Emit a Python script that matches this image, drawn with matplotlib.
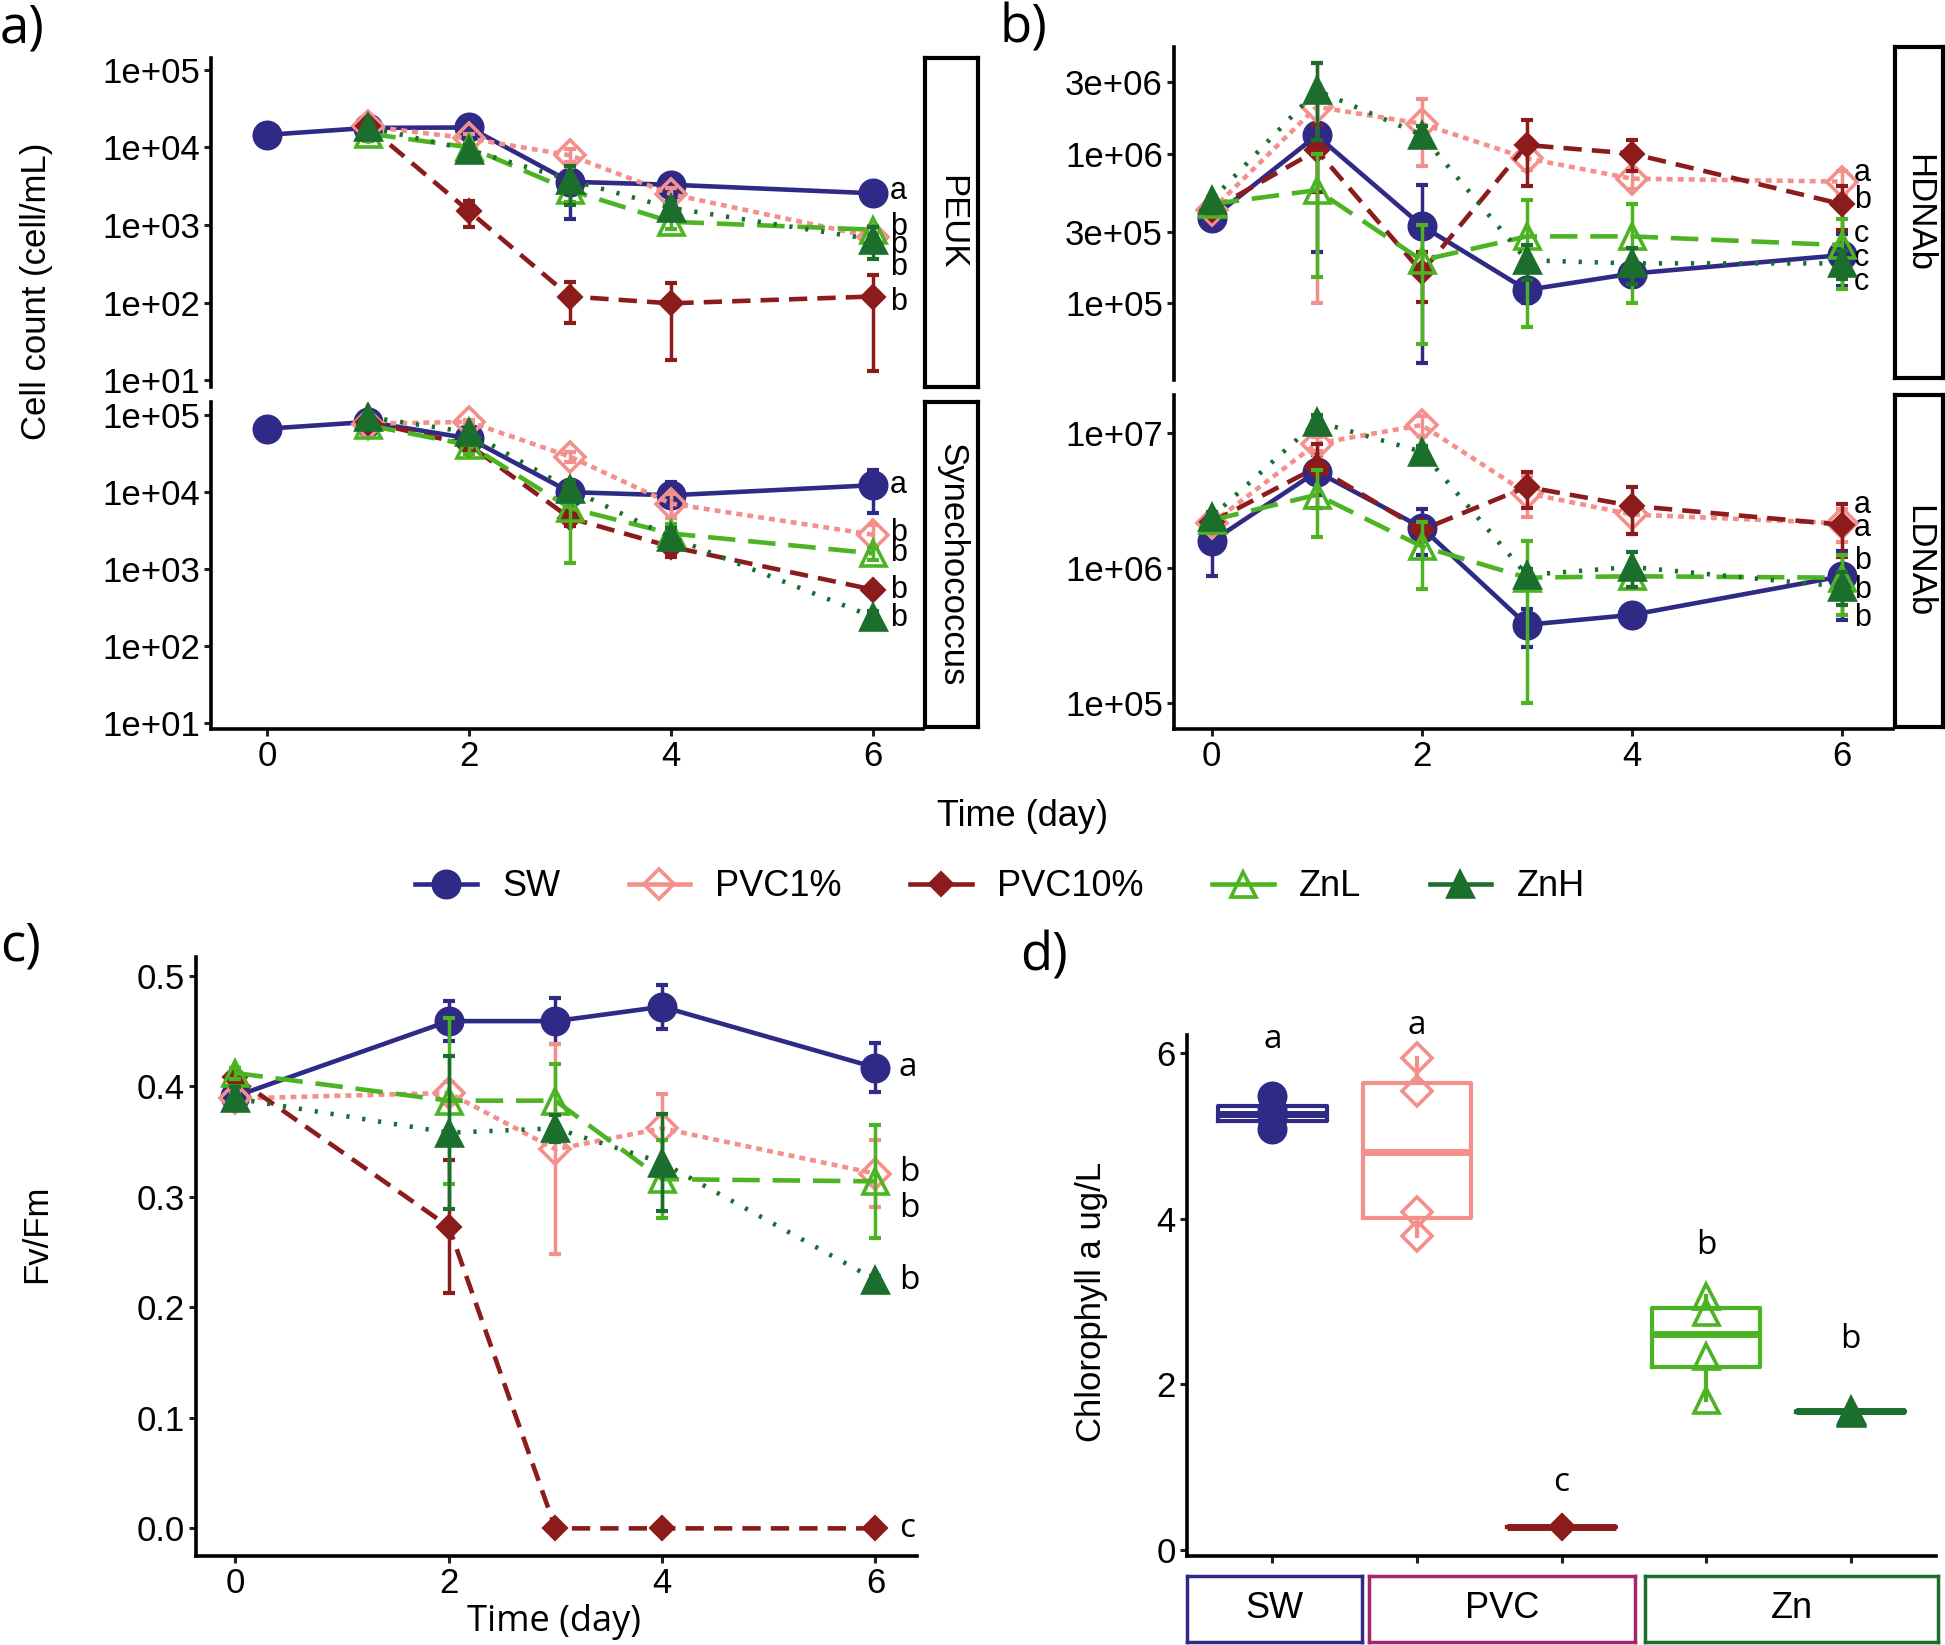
import numpy as np
import matplotlib
matplotlib.use('Agg')
import matplotlib.pyplot as plt
from matplotlib.lines import Line2D
from matplotlib.ticker import NullLocator

plt.rcParams['font.family'] = ['Liberation Sans', 'DejaVu Sans']

# ---- data ----
treat = ['SW', 'PVC1%', 'PVC10%', 'ZnL', 'ZnH']
nan = np.nan
days = [0, 1, 2, 3, 4, 6]
days_fv = [0, 2, 3, 4, 6]

# cell counts, rows = treatments (SW, PVC1%, PVC10%, ZnL, ZnH)
peuk_mean = [[1.45e4, 1.78e4, 1.8e4, 3.6e3, 3.3e3, 2.56e3],
             [nan, 1.86e4, 1.3e4, 7.9e3, 2.5e3, 700],
             [nan, 1.86e4, 1.5e3, 120, 98, 120],
             [nan, 1.5e4, 1.0e4, 2.8e3, 1.1e3, 870],
             [nan, 1.8e4, 9.3e3, 3.8e3, 1.66e3, 650]]
peuk_sd = [[500, 800, 1000, 2400, 400, 200],
           [nan, 1500, 2000, 1500, 500, 80],
           [nan, 1500, 550, 65, 80, 107],
           [nan, 3000, 1500, 800, 200, 100],
           [nan, 1500, 1500, 2000, 400, 280]]

syn_mean = [[6.7e4, 8.2e4, 5.0e4, 1.0e4, 9.1e3, 1.23e4],
            [nan, 7.8e4, 8.2e4, 2.9e4, 7.1e3, 2.8e3],
            [nan, 8.2e4, 4.1e4, 4.6e3, 1.95e3, 540],
            [nan, 7.4e4, 4.1e4, 6.2e3, 2.9e3, 1.6e3],
            [nan, 9.5e4, 6.0e4, 1.1e4, 2.6e3, 240]]
syn_sd = [[3000, 3000, 5000, 3000, 4500, 7000],
          [nan, 4000, 5000, 4000, 2500, 900],
          [nan, 3000, 5000, 1000, 500, 80],
          [nan, 4000, 10000, 5000, 1000, 300],
          [nan, 3000, 8000, 3000, 800, 40]]

hdna_mean = [[3.7e5, 1.32e6, 3.3e5, 1.23e5, 1.58e5, 2.1e5],
             [4.2e5, 2.05e6, 1.58e6, 9.3e5, 6.8e5, 6.5e5],
             [4.2e5, 1.05e6, 1.62e5, 1.14e6, 1.0e6, 4.6e5],
             [4.6e5, 5.7e5, 1.94e5, 2.8e5, 2.8e5, 2.45e5],
             [4.9e5, 2.64e6, 1.33e6, 1.94e5, 1.85e5, 1.85e5]]
hdna_sd = [[3e4, 1.1e6, 2.9e5, 2.3e4, 2.5e4, 8e4],
           [3e4, 1.95e6, 7.5e5, 1.5e5, 1e5, 1.2e5],
           [3e4, 5e5, 6e4, 5.3e5, 2.3e5, 1.5e5],
           [2e4, 4.2e5, 1.4e5, 2.1e5, 1.8e5, 1.2e5],
           [2e4, 1.4e6, 2e5, 5e4, 5e4, 4e4]]

ldna_mean = [[1.58e6, 5.2e6, 2.0e6, 3.8e5, 4.5e5, 8.7e5],
             [2.15e6, 8.4e6, 1.15e7, 3.6e6, 2.5e6, 2.15e6],
             [2.2e6, 5.6e6, 1.92e6, 4.0e6, 2.9e6, 2.1e6],
             [2.27e6, 3.5e6, 1.45e6, 8.5e5, 8.7e5, 8.5e5],
             [2.4e6, 1.22e7, 7.3e6, 8.9e5, 1.02e6, 7.3e5]]
ldna_sd = [[7e5, 1.7e6, 7.5e5, 1.2e5, 3e4, 4.6e5],
           [1e5, 1e6, 2e6, 1.2e6, 7e5, 6e5],
           [1e5, 2.8e6, 3e5, 1.2e6, 1.1e6, 9e5],
           [1e5, 1.8e6, 7.5e5, 7.5e5, 1.5e5, 4e5],
           [2e5, 1.5e6, 8e5, 1e5, 3e5, 2e5]]

fv_mean = [[0.391, 0.459, 0.459, 0.472, 0.417],
           [0.389, 0.394, 0.343, 0.362, 0.321],
           [0.408, 0.273, 0.0, 0.0, 0.0],
           [0.412, 0.387, 0.387, 0.316, 0.314],
           [0.389, 0.358, 0.362, 0.331, 0.225]]
fv_sd = [[0.012, 0.018, 0.021, 0.020, 0.022],
         [0.005, 0.010, 0.095, 0.031, 0.030],
         [0.005, 0.060, 0.0, 0.0, 0.0],
         [0.005, 0.075, 0.033, 0.035, 0.051],
         [0.010, 0.069, 0.012, 0.044, 0.003]]

chl = [[5.08, 5.22, 5.32, 5.48],
       [3.79, 4.08, 5.54, 5.94],
       [0.27, 0.28, 0.28, 0.29],
       [1.81, 2.34, 2.87, 3.07],
       [1.66, 1.67, 1.68, 1.69]]

peuk_letters = ['a', 'b', 'b', 'b', 'b']
peuk_lety = [2.7e3, 955, 550, 290, 102]
syn_letters = ['a', 'b', 'b', 'b', 'b']
syn_lety = [1.23e4, 2.9e3, 1.6e3, 540, 230]
hdna_letters = ['a', 'b', 'c', 'c', 'c']
hdna_lety = [7.4e5, 4.9e5, 2.9e5, 2.0e5, 1.39e5]
ldna_letters = ['a', 'a', 'b', 'b', 'b']
ldna_lety = [2.95e6, 1.98e6, 1.12e6, 6.9e5, 4.3e5]
fv_letters = ['a', 'b', 'b', 'b', 'c']
fv_lety = [0.417, 0.322, 0.289, 0.224, 0.0]
chl_letters = ['a', 'a', 'c', 'b', 'b']
chl_lety = [6.17, 6.33, 0.81, 3.68, 2.54]

panel_tags = ['a' + ')', 'b' + ')', 'c' + ')', 'd' + ')']
tag_px = [0, 1000, 0, 1020]
tag_py = [2, 2, 920, 930]

# ---- styles ----
colors = ['#2f2a85', '#f4908c', '#8c1c1c', '#4cb322', '#1b6e2c']
markers = ['o', 'D', 'D', '^', '^']
filled = [True, False, True, False, True]
msize = [19, 15, 11, 18, 18]
lstyles = ['-', (0, (1.3, 1.1)), (0, (4, 2.2)), (0, (6, 2.8)), (0, (0.7, 2.8))]

W, H = 1945, 1645
fig = plt.figure(figsize=(W / 100, H / 100), dpi=100)


def rect(x0, y0, x1, y1):
    return [x0 / W, 1 - y1 / H, (x1 - x0) / W, (y1 - y0) / H]


def style_ax(ax, bottom=True):
    for s in ['top', 'right']:
        ax.spines[s].set_visible(False)
    ax.spines['left'].set_linewidth(2.6)
    ax.spines['bottom'].set_linewidth(2.6)
    if not bottom:
        ax.spines['bottom'].set_visible(False)
        ax.set_xticks([])
    ax.tick_params(labelsize=25, width=2.2, length=5, pad=3, colors='#222222', labelcolor='black')


def strip(r, text, rot=-90, edge='black', fs=25, lw=3):
    sa = fig.add_axes(r)
    sa.set_xticks([])
    sa.set_yticks([])
    sa.patch.set_facecolor('white')
    for sp in sa.spines.values():
        sp.set_linewidth(lw)
        sp.set_color(edge)
    sa.text(0.5, 0.5, text, rotation=rot, ha='center', va='center',
            transform=sa.transAxes, fontsize=fs)


def draw_series(ax, x, means, sds, log=False, floor=None):
    x = np.array(x, float)
    for i in range(5):
        m = np.array(means[i], float)
        s = np.array(sds[i], float)
        ok = ~np.isnan(m)
        lo = m - s
        if log:
            lo = np.maximum(lo, floor)
        ax.errorbar(x[ok], m[ok], yerr=[m[ok] - lo[ok], s[ok]], fmt='none',
                    ecolor=colors[i], elinewidth=2.5, capsize=4, capthick=3, zorder=2 + i)
        ax.plot(x[ok], m[ok], color=colors[i], lw=3.3, ls=lstyles[i], zorder=3 + i)
        ax.plot(x[ok], m[ok], ls='none', marker=markers[i], ms=msize[i],
                mfc=colors[i] if filled[i] else 'none', mec=colors[i], mew=2.6, zorder=3 + i)


def letters(ax, x, ys, labs, fs=22, family=None):
    for y, l in zip(ys, labs):
        ax.text(x, y, l, fontsize=fs, ha='left', va='center', family=family)


# ---- panel a ----
a_ticks = [1e1, 1e2, 1e3, 1e4, 1e5]
a_lab = ['1e+01', '1e+02', '1e+03', '1e+04', '1e+05']
ax_a1 = fig.add_axes(rect(211, 58, 923, 387))
draw_series(ax_a1, days, peuk_mean, peuk_sd, log=True, floor=10 ** 0.95)
ax_a1.set_yscale('log')
ax_a1.set_ylim(10 ** 0.914, 10 ** 5.15)
ax_a1.set_xlim(-0.56, 6.5)
ax_a1.set_yticks(a_ticks)
ax_a1.set_yticklabels(a_lab)
ax_a1.yaxis.set_minor_locator(NullLocator())
style_ax(ax_a1, bottom=False)
letters(ax_a1, 6.17, peuk_lety, peuk_letters)
strip(rect(925, 58, 978, 387), 'PEUK')

ax_a2 = fig.add_axes(rect(211, 402, 923, 729))
draw_series(ax_a2, days, syn_mean, syn_sd, log=True, floor=10 ** 0.95)
ax_a2.set_yscale('log')
ax_a2.set_ylim(10 ** 0.918, 10 ** 5.173)
ax_a2.set_xlim(-0.56, 6.5)
ax_a2.set_yticks(a_ticks)
ax_a2.set_yticklabels(a_lab)
ax_a2.yaxis.set_minor_locator(NullLocator())
ax_a2.set_xticks([0, 2, 4, 6])
style_ax(ax_a2)
letters(ax_a2, 6.17, syn_lety, syn_letters)
strip(rect(925, 402, 978, 727), 'Synechococcus')

# ---- panel b ----
ax_b1 = fig.add_axes(rect(1174, 47, 1893, 380))
draw_series(ax_b1, days, hdna_mean, hdna_sd, log=True, floor=10 ** 4.5)
ax_b1.set_yscale('log')
ax_b1.set_ylim(10 ** 4.489, 10 ** 6.711)
ax_b1.set_xlim(-0.36, 6.49)
ax_b1.set_yticks([1e5, 3e5, 1e6, 3e6])
ax_b1.set_yticklabels(['1e+05', '3e+05', '1e+06', '3e+06'])
ax_b1.yaxis.set_minor_locator(NullLocator())
style_ax(ax_b1, bottom=False)
letters(ax_b1, 6.12, hdna_lety, hdna_letters)
strip(rect(1895, 47, 1943, 378), 'HDNAb')

ax_b2 = fig.add_axes(rect(1174, 395, 1893, 729))
draw_series(ax_b2, days, ldna_mean, ldna_sd, log=True, floor=10 ** 4.81)
ax_b2.set_yscale('log')
ax_b2.set_ylim(10 ** 4.807, 10 ** 7.284)
ax_b2.set_xlim(-0.36, 6.49)
ax_b2.set_yticks([1e5, 1e6, 1e7])
ax_b2.set_yticklabels(['1e+05', '1e+06', '1e+07'])
ax_b2.yaxis.set_minor_locator(NullLocator())
ax_b2.set_xticks([0, 2, 4, 6])
style_ax(ax_b2)
letters(ax_b2, 6.12, ldna_lety, ldna_letters)
strip(rect(1895, 395, 1943, 727), 'LDNAb')

fig.text(37 / W, 1 - 291 / H, 'Cell count (cell/mL)', rotation=90, ha='center', va='center', fontsize=25)
fig.text(1023 / W, 1 - 816 / H, 'Time (day)', ha='center', va='center', fontsize=26)

# ---- legend ----
handles = [Line2D([0], [0], color=colors[i], lw=3.3, marker=markers[i], ms=msize[i],
                  mfc=colors[i] if filled[i] else 'none', mec=colors[i], mew=2.6)
           for i in range(5)]
fig.legend(handles, treat, ncol=5, frameon=False, fontsize=26, handlelength=1.7,
           columnspacing=1.9, handletextpad=0.7, loc='center',
           bbox_to_anchor=(1000 / W, 1 - 887 / H))

# ---- panel c ----
ax_c = fig.add_axes(rect(196, 957, 917, 1556))
draw_series(ax_c, days_fv, fv_mean, fv_sd)
ax_c.set_ylim(-0.025, 0.517)
ax_c.set_xlim(-0.37, 6.39)
ax_c.set_xticks([0, 2, 4, 6])
ax_c.set_yticks([0.0, 0.1, 0.2, 0.3, 0.4, 0.5])
ax_c.set_yticklabels(['0.0', '0.1', '0.2', '0.3', '0.4', '0.5'])
style_ax(ax_c)
letters(ax_c, 6.22, fv_lety, fv_letters, fs=24, family='Open Sans')
fig.text(37 / W, 1 - 1234 / H, 'Fv/Fm', rotation=90, ha='center', va='center', fontsize=25)
fig.text(554 / W, 1 - 1622 / H, 'Time (day)', ha='center', va='center', fontsize=26, family='Open Sans')

# ---- panel d ----
ax_d = fig.add_axes(rect(1187, 1035, 1936, 1556))
for i in range(5):
    c = colors[i]
    ax_d.boxplot([chl[i]], positions=[i + 1], widths=0.75, showfliers=False,
                 boxprops=dict(color=c, lw=3), whiskerprops=dict(color=c, lw=3),
                 capprops=dict(lw=0), medianprops=dict(color=c, lw=5))
    ax_d.plot([i + 1] * len(chl[i]), chl[i], ls='none', marker=markers[i], ms=msize[i],
              mfc=c if filled[i] else 'none', mec=c, mew=2.6, zorder=5)
    ax_d.text(i + 1, chl_lety[i], chl_letters[i], ha='center', va='center', fontsize=24,
              family='Open Sans')
ax_d.set_xlim(0.41, 5.59)
ax_d.set_ylim(-0.073, 6.22)
ax_d.set_yticks([0, 2, 4, 6])
ax_d.set_xticks([1, 2, 3, 4, 5])
ax_d.set_xticklabels([])
style_ax(ax_d)
fig.text(1092 / W, 1 - 1302 / H, 'Chlorophyll a ug/L', rotation=90, ha='center', va='center', fontsize=25)
strip(rect(1187, 1576, 1362, 1642), 'SW', rot=0, edge='#2f2a85', lw=2.5, fs=26)
strip(rect(1369, 1576, 1635, 1642), 'PVC', rot=0, edge='#a3286b', lw=2.5, fs=26)
strip(rect(1645, 1576, 1938, 1642), 'Zn', rot=0, edge='#1b6e2c', lw=2.5, fs=26)

# panel labels
for k in range(4):
    fig.text(tag_px[k] / W, 1 - tag_py[k] / H, panel_tags[k], ha='left', va='top',
             fontsize=38, family='Open Sans')

fig.savefig('out.png', dpi=100)
